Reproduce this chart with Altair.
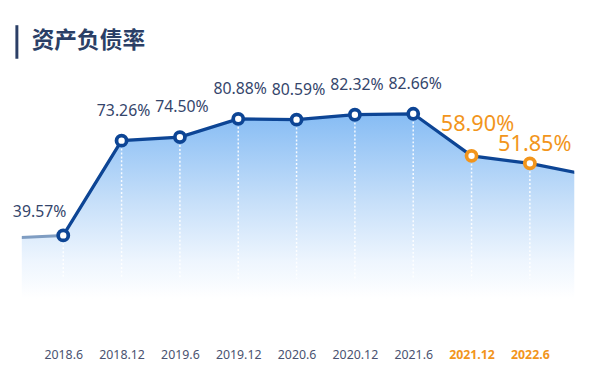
import altair as alt
import pandas as pd

# ---- data ----
periods = ["2018.6", "2018.12", "2019.6", "2019.12", "2020.6",
           "2020.12", "2021.6", "2021.12", "2022.6"]
ratios = [39.57, 73.26, 74.50, 80.88, 80.59, 82.32, 82.66, 58.90, 51.85]
highlight_from = 7            # index of first orange (highlighted) period
edge_periods = ["2017.12", "2022.12"]   # off-chart neighbours (line runs out of frame)
edge_ratios = [39.10, 49.85]
title_text = "资产负债率"

NAVY = "#0d4595"
ORANGE = "#f2951c"
TEXT = "#34456b"

idx = [-1] + list(range(len(periods))) + [len(periods)]
df = pd.DataFrame({
    "i": idx,
    "period": [edge_periods[0]] + periods + [edge_periods[1]],
    "ratio": [edge_ratios[0]] + ratios + [edge_ratios[1]],
})

label_expr = "[" + ",".join("'%s'" % p for p in periods) + "][datum.value]"

x_enc = alt.X(
    "i:Q",
    scale=alt.Scale(domain=[-0.7104, 8.7611], nice=False, zero=False),
    axis=alt.Axis(
        values=list(range(len(periods))),
        labelExpr=label_expr,
        domain=False, ticks=False, grid=False, title=None,
        labelPadding=8, labelFontSize=12.5, labelFont="Noto Sans",
        labelColor={"condition": {"test": f"datum.value >= {highlight_from}", "value": ORANGE},
                    "value": "#4a5270"},
        labelFontWeight={"condition": {"test": f"datum.value >= {highlight_from}", "value": "bold"},
                         "value": "normal"},
    ),
)
y_enc = alt.Y(
    "ratio:Q",
    scale=alt.Scale(domain=[30, 51.85, 73.26, 85], range=[285, 155, 132, 98],
                    zero=False, nice=False),
    axis=None,
    stack=None,
)

base = alt.Chart(df).encode(x=x_enc, y=y_enc)
real = base.transform_filter(f"datum.i >= 0 && datum.i < {len(periods)}")

gradient = alt.Gradient(
    gradient="linear",
    stops=[
        alt.GradientStop(color="#86bcf4", offset=0),
        alt.GradientStop(color="#c6dff9", offset=0.45),
        alt.GradientStop(color="#edf5fe", offset=0.75),
        alt.GradientStop(color="#ffffff", offset=0.95),
    ],
    x1=0, x2=0, y1=0, y2=1,
)

area = base.mark_area(clip=True, fill=gradient, line=False).encode(y2=alt.value(302))

rules = real.mark_rule(color="white", strokeDash=[2, 2], strokeWidth=1.5, opacity=0.9).encode(
    y2=alt.value(272)
)

line_light = base.transform_filter("datum.i <= 0").mark_line(
    clip=True, color="#7f9dc2", strokeWidth=3
)
line_dark = base.transform_filter("datum.i >= 0").mark_line(
    clip=True, color=NAVY, strokeWidth=3.3
)

points = real.mark_point(shape="circle", filled=True, fill="white", size=105,
                         strokeWidth=3.8, opacity=1).encode(
    stroke=alt.condition(f"datum.i >= {highlight_from}", alt.value(ORANGE), alt.value(NAVY))
)

lab = real.transform_calculate(label="format(datum.ratio, '.2f') + '%'")

label_first = lab.transform_filter("datum.i == 0").mark_text(
    font="Noto Sans", fontSize=16, color=TEXT, dx=-24, dy=-24, baseline="middle"
).encode(text="label:N")

label_mid = lab.transform_filter(f"datum.i > 0 && datum.i < {highlight_from}").mark_text(
    font="Noto Sans", fontSize=16, color=TEXT, dx=2, dy=-30, baseline="middle"
).encode(text="label:N")

label_hi1 = lab.transform_filter(f"datum.i == {highlight_from}").mark_text(
    font="Noto Sans", fontSize=22, color=ORANGE, dx=6, dy=-32, baseline="middle"
).encode(text="label:N")

label_hi2 = lab.transform_filter(f"datum.i > {highlight_from}").mark_text(
    font="Noto Sans", fontSize=22, color=ORANGE, dx=5, dy=-19, baseline="middle"
).encode(text="label:N")

title_df = pd.DataFrame({"t": [title_text]})
title = alt.Chart(title_df).mark_text(
    font="Noto Sans CJK SC", fontSize=23, fontWeight="bold", color="#2b3f66",
    align="left", baseline="middle"
).encode(text="t:N", x=alt.value(10), y=alt.value(31))

bar = alt.Chart(title_df).mark_rule(color="#2b3f66", strokeWidth=3).encode(
    x=alt.value(-5), y=alt.value(15), y2=alt.value(49)
)

chart = alt.layer(
    area, rules, line_light, line_dark, points,
    label_first, label_mid, label_hi1, label_hi2, bar, title
).properties(
    width=560, height=335,
    autosize=alt.AutoSizeParams(type="none"),
    padding={"left": 14, "top": 0, "right": 20, "bottom": 23},
    background="white",
).configure_view(stroke=None)

chart.save("out.html", embed_options={"renderer": "svg", "actions": False})
